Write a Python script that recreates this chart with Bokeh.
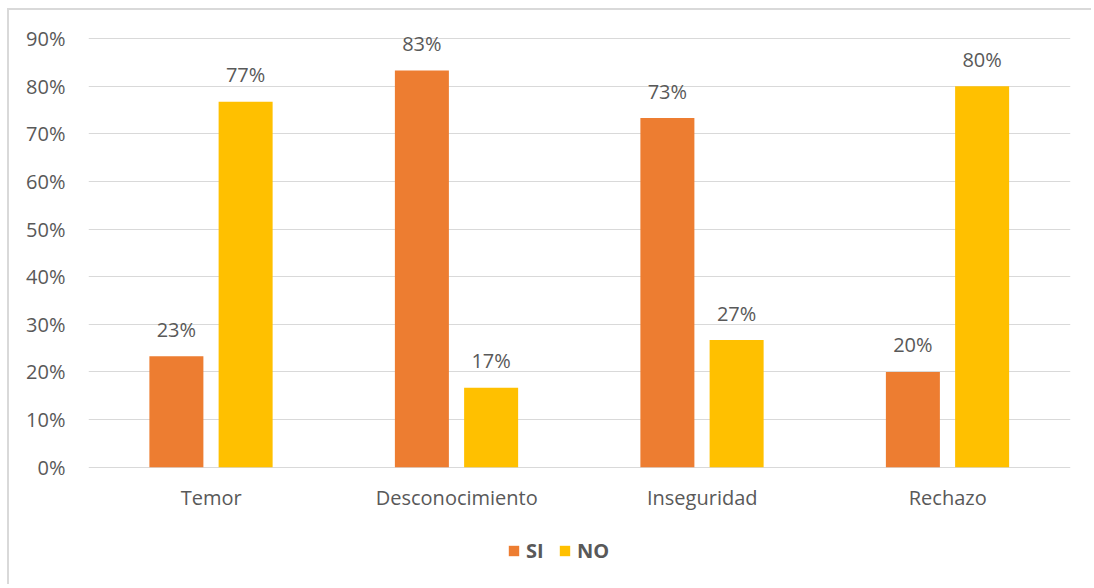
from bokeh.plotting import figure
from bokeh.models import ColumnDataSource, Legend, LegendItem, NumeralTickFormatter, FactorRange
from bokeh.transform import dodge
from bokeh.core.properties import value
from bokeh.embed import file_html
from bokeh.resources import INLINE

categories = ["Temor", "Desconocimiento", "Inseguridad", "Rechazo"]
si_values = [0.233, 0.833, 0.733, 0.200]
no_values = [0.767, 0.167, 0.267, 0.800]
si_labels = ["23%", "83%", "73%", "20%"]
no_labels = ["77%", "17%", "27%", "80%"]
y_ticks = [0, 0.1, 0.2, 0.3, 0.4, 0.5, 0.6, 0.7, 0.8, 0.9]

src = ColumnDataSource(dict(cat=categories, si=si_values, no=no_values,
                            si_lab=si_labels, no_lab=no_labels, zero=[0] * len(categories)))

FONT = "Open Sans"
TXT = "#595959"
FS = "20px"

p = figure(x_range=FactorRange(*categories), y_range=(-0.24, 0.9294), width=1084, height=576,
           output_backend="svg", toolbar_location=None,
           min_border_left=79, min_border_right=23, min_border_top=14, min_border_bottom=5)
p.styles = {"margin-left": "7px", "margin-top": "8px",
            "border-top": "2px solid #d9d9d9", "border-left": "2px solid #d9d9d9"}
p.outline_line_color = None
p.background_fill_color = "white"

r_si = p.vbar(x=dodge("cat", -0.142, range=p.x_range), top="si", width=0.22, source=src,
              color="#ED7D31", line_color=None)
r_no = p.vbar(x=dodge("cat", 0.140, range=p.x_range), top="no", width=0.22, source=src,
              color="#FFC000", line_color=None)

p.text(x=dodge("cat", -0.142, range=p.x_range), y="si", text="si_lab", source=src,
       text_align="center", text_baseline="alphabetic", y_offset=-27,
       text_font=value(FONT), text_font_size=FS, text_color=TXT)
p.text(x=dodge("cat", 0.140, range=p.x_range), y="no", text="no_lab", source=src,
       text_align="center", text_baseline="alphabetic", y_offset=-27,
       text_font=value(FONT), text_font_size=FS, text_color=TXT)

# category labels under the zero line
p.text(x="cat", y="zero", text="cat", source=src, text_align="center",
       text_baseline="middle", y_offset=30,
       text_font=value(FONT), text_font_size=FS, text_color=TXT)

p.yaxis.ticker = y_ticks
p.yaxis.formatter = NumeralTickFormatter(format="0%")
p.yaxis.axis_line_color = None
p.yaxis.major_tick_line_color = None
p.yaxis.minor_tick_line_color = None
p.yaxis.major_label_text_font = FONT
p.yaxis.major_label_text_font_size = FS
p.yaxis.major_label_text_color = TXT
p.yaxis.major_label_standoff = 17

p.xaxis.visible = False
p.xgrid.grid_line_color = None
p.ygrid.grid_line_color = "#d9d9d9"
p.ygrid.grid_line_width = 1.2

legend = Legend(items=[LegendItem(label="SI", renderers=[r_si]),
                       LegendItem(label="NO", renderers=[r_no])],
                orientation="horizontal", location=(419, 17),
                glyph_width=13, glyph_height=13, label_standoff=6, spacing=12,
                padding=0, margin=0, border_line_color=None, background_fill_alpha=0,
                label_text_font=FONT, label_text_font_style="bold",
                label_text_font_size=FS, label_text_color=TXT, label_height=20)
p.add_layout(legend, "center")

open("out.html", "w").write(file_html(p, INLINE))
